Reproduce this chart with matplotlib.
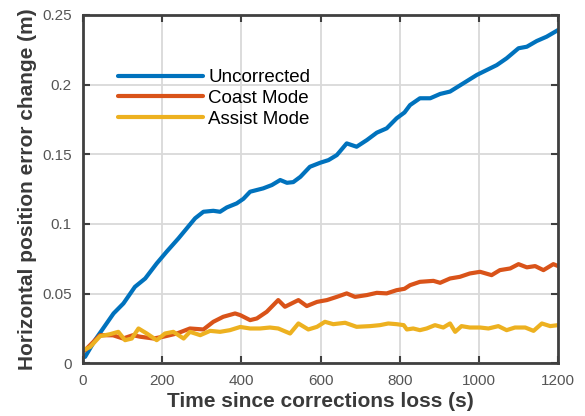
import numpy as np
import matplotlib
matplotlib.use("Agg")
import matplotlib.pyplot as plt

plt.rcParams['font.family'] = ['Liberation Sans', 'DejaVu Sans']

# Horizontal position error change after losing corrections
t_unc = [5, 30, 77, 102, 131, 157, 186, 211, 241, 262, 283, 304, 329, 346, 363,
         388, 405, 422, 455, 477, 498, 515, 531, 549, 573, 599, 620, 641, 666,
         691, 717, 742, 767, 792, 812, 826, 851, 877, 902, 927, 961, 995, 1020,
         1045, 1070, 1100, 1121, 1146, 1171, 1200]
e_unc = [0.0045, 0.0165, 0.0357, 0.0429, 0.0548, 0.0608, 0.0716, 0.0800,
         0.0896, 0.0968, 0.1040, 0.1087, 0.1094, 0.1087, 0.1118, 0.1147,
         0.1180, 0.1231, 0.1255, 0.1279, 0.1315, 0.1295, 0.1300, 0.1338,
         0.1410, 0.1439, 0.1458, 0.1494, 0.1578, 0.1554, 0.1602, 0.1655,
         0.1686, 0.1758, 0.1800, 0.1853, 0.1902, 0.1902, 0.1933, 0.1950,
         0.2010, 0.2070, 0.2105, 0.2140, 0.2189, 0.2261, 0.2272, 0.2313,
         0.2344, 0.2392]

t_coast = [5, 43, 76, 101, 126, 144, 178, 203, 237, 270, 304, 329, 354, 384,
           397, 422, 439, 464, 493, 510, 544, 565, 591, 616, 641, 666, 687,
           717, 742, 767, 792, 812, 826, 851, 885, 902, 927, 952, 977, 1003,
           1032, 1053, 1079, 1100, 1121, 1142, 1163, 1188, 1200]
e_coast = [0.0093, 0.0201, 0.0200, 0.0177, 0.0201, 0.0190, 0.0177, 0.0190,
           0.0213, 0.0249, 0.0242, 0.0297, 0.0333, 0.0357, 0.0345, 0.0309,
           0.0321, 0.0369, 0.0453, 0.0405, 0.0453, 0.0410, 0.0440, 0.0453,
           0.0476, 0.0501, 0.0476, 0.0489, 0.0505, 0.0501, 0.0524, 0.0534,
           0.0560, 0.0584, 0.0591, 0.0577, 0.0608, 0.0620, 0.0644, 0.0656,
           0.0632, 0.0668, 0.0680, 0.0711, 0.0688, 0.0697, 0.0668, 0.0711,
           0.0697]

t_assist = [5, 18, 43, 68, 89, 106, 123, 140, 161, 186, 207, 228, 254, 270,
            296, 321, 346, 371, 397, 422, 447, 472, 493, 523, 544, 569, 591,
            611, 632, 662, 691, 725, 750, 771, 792, 810, 818, 834, 851, 868,
            889, 910, 927, 940, 956, 977, 1003, 1024, 1049, 1070, 1091, 1117,
            1138, 1159, 1180, 1200]
e_assist = [0.0098, 0.0117, 0.0194, 0.0208, 0.0225, 0.0165, 0.0177, 0.0249,
            0.0213, 0.0165, 0.0213, 0.0225, 0.0177, 0.0225, 0.0201, 0.0232,
            0.0225, 0.0237, 0.0260, 0.0249, 0.0249, 0.0256, 0.0249, 0.0213,
            0.0285, 0.0242, 0.0261, 0.0297, 0.0280, 0.0290, 0.0261, 0.0266,
            0.0273, 0.0285, 0.0280, 0.0273, 0.0242, 0.0249, 0.0237, 0.0249,
            0.0273, 0.0256, 0.0285, 0.0225, 0.0266, 0.0256, 0.0256, 0.0249,
            0.0266, 0.0237, 0.0256, 0.0256, 0.0232, 0.0285, 0.0266, 0.0273]

x_ticks = [0, 200, 400, 600, 800, 1000, 1200]
y_ticks = [0, 0.05, 0.1, 0.15, 0.2, 0.25]
y_ticklabels = ['0', '0.05', '0.1', '0.15', '0.2', '0.25']

fig = plt.figure(figsize=(5.85, 4.16), dpi=100)
ax = fig.add_axes([0.142, 0.127, 0.812, 0.837])

lw = 3.0
ax.plot(t_unc, e_unc, color='#0072BD', lw=lw, label='Uncorrected',
        solid_joinstyle='round', solid_capstyle='round')
ax.plot(t_coast, e_coast, color='#D95319', lw=lw, label='Coast Mode',
        solid_joinstyle='round', solid_capstyle='round')
ax.plot(t_assist, e_assist, color='#EDB120', lw=lw, label='Assist Mode',
        solid_joinstyle='round', solid_capstyle='round')

ax.set_xlim(0, 1200)
ax.set_ylim(0, 0.25)
ax.set_xticks(x_ticks)
ax.set_yticks(y_ticks)
ax.set_yticklabels(y_ticklabels)

ax.grid(True, color='#d9d9d9', lw=1.3)
ax.set_axisbelow(True)
for s in ax.spines.values():
    s.set_linewidth(2.0)
    s.set_color('#404040')
ax.tick_params(direction='in', length=5, width=1.5, color='#404040',
               labelsize=11, labelcolor='#555555', top=True, right=True,
               pad=8)

ax.set_xlabel('Time since corrections loss (s)', fontsize=15,
              fontweight='bold', color='#3a3a3a', labelpad=3)
ax.set_ylabel('Horizontal position error change (m)', fontsize=15,
              fontweight='bold', color='#3a3a3a', labelpad=4)

ax.legend(loc='upper left', bbox_to_anchor=(0.074, 0.845), frameon=False,
          fontsize=13.5, handlelength=4.5, handletextpad=0.3,
          labelspacing=0.2, borderpad=0, borderaxespad=0)

fig.savefig('out.png', dpi=100)
